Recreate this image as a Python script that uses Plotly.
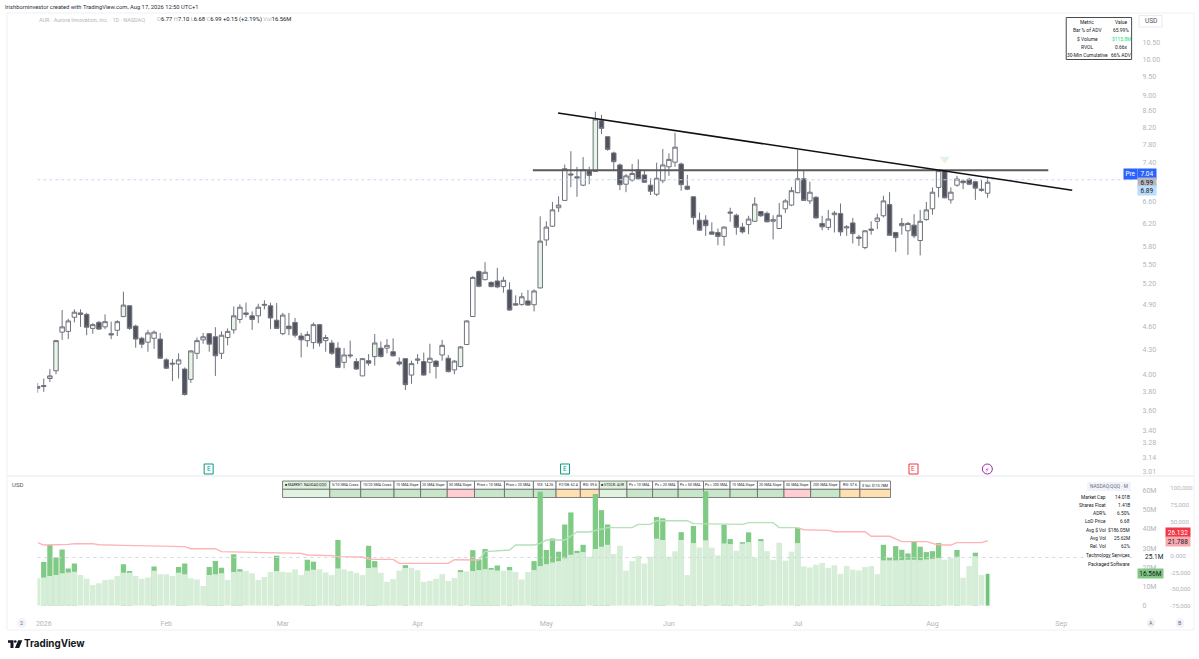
import plotly.graph_objects as go

W, H = 1199, 659
FONT = "Roboto"

# ---------- price data ----------
opens = [3.86,3.87,3.95,4.04,4.52,4.53,4.72,4.78,4.76,4.57,
4.65,4.59,4.50,4.545,4.73,4.88,4.60,4.44,4.39,4.44,
4.43,4.17,4.13,4.12,4.06,3.94,4.25,4.42,4.50,4.46,
4.25,4.45,4.55,4.69,4.78,4.74,4.74,4.90,4.88,4.68,
4.50,4.60,4.65,4.47,4.41,4.385,4.62,4.41,4.38,4.315,
4.14,4.23,4.15,3.98,4.16,4.21,4.315,4.315,4.27,4.145,
4.185,3.99,4.165,4.15,4.14,4.155,4.23,4.19,4.05,4.09,
4.36,4.73,5.39,5.265,5.225,5.245,5.16,5.11,4.91,4.90,
4.95,4.895,5.14,5.91,6.15,6.49,6.63,7.16,7.10,6.93,
7.22,7.21,8.36,7.98,7.61,7.35,6.95,7.035,7.25,7.14,
6.93,6.75,7.02,7.31,7.41,7.37,6.91,6.70,6.26,6.26,
6.05,6.04,5.97,6.41,6.35,6.135,6.18,6.24,6.42,6.385,
6.24,6.11,6.47,6.54,6.78,7.06,6.62,6.69,6.20,6.13,
6.36,6.38,6.12,6.21,5.96,5.78,6.10,6.24,6.34,6.55,
6.04,6.16,6.07,6.17,5.90,6.27,6.47,6.885,7.23,6.64,
6.93,7.015,7.05,7.00,6.85,6.77]
closes = [3.84,3.86,3.98,4.41,4.59,4.67,4.79,4.76,4.585,4.62,
4.56,4.66,4.485,4.66,4.89,4.57,4.43,4.365,4.51,4.52,
4.19,4.07,4.12,4.17,3.77,4.28,4.41,4.46,4.365,4.22,
4.48,4.53,4.74,4.86,4.76,4.69,4.86,4.89,4.71,4.57,
4.75,4.565,4.48,4.42,4.49,4.62,4.38,4.45,4.25,4.08,
4.23,4.22,4.06,4.185,4.13,4.38,4.21,4.35,4.22,4.12,
3.88,4.125,4.18,3.99,4.19,4.09,4.35,4.03,4.155,4.33,
4.67,5.30,5.165,5.38,5.16,5.155,5.255,4.82,4.89,5.01,
4.89,5.095,5.89,6.135,6.45,6.54,7.27,7.14,7.08,7.25,
7.13,8.40,8.175,7.69,7.42,6.94,7.12,7.17,7.06,6.99,
6.81,7.07,7.35,7.47,7.74,6.94,6.85,6.31,6.08,6.16,
6.01,5.97,6.135,6.39,6.13,6.05,6.28,6.56,6.34,6.23,
6.27,6.35,6.62,6.82,7.06,6.63,6.79,6.30,6.14,6.28,
6.39,6.05,6.14,6.02,5.94,6.07,6.08,6.30,6.62,5.99,
5.95,6.20,6.20,5.98,6.24,6.45,6.79,7.23,6.68,6.79,
7.055,6.98,6.95,6.87,6.83,6.99]
highs = [3.90,3.95,4.06,4.42,4.82,4.70,4.83,4.83,4.78,4.64,
4.67,4.76,4.66,4.68,5.085,4.89,4.62,4.46,4.55,4.54,
4.51,4.19,4.18,4.25,4.08,4.29,4.45,4.51,4.51,4.585,
4.53,4.57,4.87,4.90,4.925,4.80,4.91,4.96,4.925,4.92,
4.78,4.78,4.71,4.51,4.53,4.65,4.63,4.485,4.42,4.39,
4.315,4.41,4.19,4.19,4.24,4.495,4.40,4.43,4.44,4.20,
4.185,4.16,4.24,4.26,4.37,4.17,4.42,4.23,4.17,4.34,
4.68,5.32,5.41,5.54,5.235,5.45,5.31,5.225,5.03,5.07,
5.11,5.12,6.33,6.24,6.60,6.71,7.36,7.65,7.31,7.52,
7.31,8.58,8.50,7.99,7.64,7.38,7.16,7.37,7.47,7.25,
7.07,7.40,7.70,7.60,8.07,7.40,7.14,6.715,6.40,6.35,
6.22,6.11,6.15,6.49,6.38,6.21,6.34,6.69,6.42,6.42,
6.35,6.58,6.655,6.89,7.68,7.24,7.00,6.715,6.34,6.45,
6.43,6.57,6.17,6.30,6.00,6.08,6.24,6.38,6.72,6.79,
6.05,6.30,6.23,6.37,6.45,6.60,6.885,7.25,7.24,6.885,
7.12,7.05,7.08,7.015,7.035,7.10]
lows = [3.79,3.80,3.91,4.00,4.42,4.43,4.65,4.59,4.48,4.50,
4.55,4.56,4.43,4.47,4.72,4.55,4.32,4.315,4.27,4.305,
4.18,4.06,3.92,3.95,3.76,3.90,4.18,4.37,4.27,3.98,
4.18,4.35,4.50,4.64,4.72,4.55,4.64,4.83,4.56,4.56,
4.48,4.48,4.45,4.20,4.33,4.305,4.335,4.27,4.23,4.07,
4.07,4.19,4.05,3.98,4.10,4.10,4.20,4.25,4.21,4.10,
3.82,3.89,4.12,3.985,4.01,3.95,4.16,4.02,4.00,4.08,
4.355,4.73,5.15,5.255,5.15,5.135,5.07,4.81,4.88,4.88,
4.88,4.80,5.135,5.81,6.14,6.41,6.62,6.89,6.70,6.91,
6.95,7.21,8.04,7.66,7.22,6.83,6.79,7.00,7.035,6.98,
6.735,6.715,6.97,7.12,7.31,6.82,6.83,6.18,6.07,5.98,
6.00,5.82,5.81,6.23,6.00,6.02,6.01,6.23,6.32,6.22,
5.92,6.10,6.39,6.52,6.77,6.62,6.56,6.29,6.08,6.08,
6.04,5.98,5.98,5.85,5.81,5.75,6.00,6.10,6.31,5.98,
5.71,6.00,5.66,5.94,5.65,6.25,6.36,6.69,6.67,6.57,
6.90,6.85,6.93,6.64,6.80,6.68]
light_green_candles = [3, 14, 25, 32, 55, 69, 82, 91, 117, 145]

# ---------- volume data (millions) ----------
base_volume = [14.2,14.7,15.4,15.9,16.8,17.3,17.6,15.9,14.0,10.7,
11.6,13.3,13.6,15.4,17.1,17.1,15.4,14.0,14.7,18.2,
16.4,16.4,15.4,17.1,16.4,14.2,13.6,10.2,15.9,16.4,
16.8,13.3,17.5,17.8,18.0,16.8,13.3,14.9,17.5,18.0,
17.6,17.3,18.9,15.9,18.2,18.7,18.9,17.3,15.9,19.4,
18.9,18.0,17.1,15.9,19.6,19.9,17.1,12.4,13.8,18.3,
19.6,19.7,18.5,12.4,12.9,14.0,16.4,12.8,14.3,17.5,
17.8,18.0,18.5,19.0,18.7,18.3,18.2,18.5,17.5,13.6,
17.5,18.5,20.6,21.6,22.5,23.2,24.6,26.5,27.4,27.9,
25.5,29.5,30.7,31.7,26.9,31.2,18.2,23.2,25.8,22.0,
25.5,34.9,34.2,25.5,28.3,34.2,15.9,32.6,30.3,34.0,
30.2,26.2,32.4,32.1,28.6,32.3,33.1,25.1,33.6,28.4,
23.9,32.8,23.4,28.1,32.6,20.4,19.9,21.3,22.2,19.7,
21.0,16.6,20.6,18.7,18.3,20.1,20.6,16.4,23.6,23.6,
23.6,23.7,23.9,23.9,23.7,24.1,24.4,24.8,23.9,25.0,
25.5,14.5,20.6,25.8,15.9,16.56]
spike_idx = [1,2,3,4,5,6,14,15,19,23,24,28,29,30,32,33,39,44,45,49,54,55,60,69,71,72,73,74,75,77,
81,82,83,84,85,86,87,88,89,91,92,93,101,102,105,107,109,112,113,115,116,118,124,
138,139,140,141,142,143,144,145,146,147,150,153]
spike_volume = [22.7,31.6,25.1,29.3,19.4,22.0,21.5,18.0,20.4,20.1,22.0,20.1,23.2,19.7,26.8,18.9,26.0,23.9,22.9,34.2,31.2,23.2,21.1,18.5,28.9,24.1,29.5,19.6,20.9,20.1,
23.2,59.4,29.0,35.0,28.1,42.3,48.6,28.6,31.7,58.2,49.8,42.3,46.2,45.5,38.3,41.5,59.7,42.2,34.7,33.1,38.2,34.7,40.4,
31.7,25.0,31.0,29.1,27.2,33.5,30.7,27.9,28.4,32.6,29.0,27.6]
last_idx, last_volume = 155, 16.56
avg_volume = 25.1

# ---------- oscillator line ----------
pink1_idx = [0,1,5,6,9,10,14,20,24,25,29,30,34,38,39,43,44,48,49,53,54,58,59,67,68,72]
pink1_val = [19.0,15.5,16.5,17.5,17.5,16.0,15.0,13.6,13.1,10.1,10.1,5.7,4.7,4.2,3.2,3.2,0.7,-0.2,-1.7,-2.2,-5.7,-5.7,-11.6,-11.6,-6.2,-6.7]
green_idx = [72,73,77,78,81,82,83,86,88,90,93,97,98,100,101,106,107,115,116,120,121,124]
green_val = [-6.7,5.7,8.1,15.5,15.5,18.0,22.9,22.9,34.8,34.8,41.2,41.2,46.1,46.1,51.5,51.5,47.1,46.1,48.6,48.6,41.2,41.2]
pink2_idx = [124,125,129,130,135,136,139,141,145,147,149,150,154,155]
pink2_val = [41.2,38.2,37.2,35.2,35.2,28.4,28.4,20.5,20.5,15.5,15.5,19.0,19.0,21.788]

# ---------- drawn lines ----------
trend_idx, trend_price = [84.9, 168.8], [8.55, 6.83]
level_idx, level_price = [80.8, 164.9], [7.24, 7.24]
pre_price = 7.04

# ---------- axes ----------
month_idx = [1, 21, 40, 62, 83, 103, 124, 146, 167]
month_txt = ["2026", "Feb", "Mar", "Apr", "May", "Jun", "Jul", "Aug", "Sep"]
price_ticks = [10.5,10,9.5,9,8.6,8.2,7.8,7.4,6.6,6.2,5.8,5.5,5.2,4.9,4.6,4.3,4.0,3.8,3.6,3.4,3.28,3.14,3.01]
price_text = ["10.50","10.00","9.50","9.00","8.60","8.20","7.80","7.40","6.60","6.20","5.80","5.50","5.20","4.90","4.60","4.30","4.00","3.80","3.60","3.40","3.28","3.14","3.01"]
vol_ticks = [0, 10, 20, 30, 40, 50, 60]
vol_text = ["0", "10M", "20M", "30M", "40M", "50M", "60M"]
osc_ticks = [-75, -50, -25, 0, 50, 75, 100]
osc_text = ["-75,000", "-50,000", "-25,000", "0.000", "50,000", "75,000", "100,000"]

# ---------- table strip ----------
cell_labels = ["■ MARKET: NASDAQ:QQQ","5/10 SMA Cross","10/20 SMA Cross","10 SMA Slope","20 SMA Slope","50 SMA Slope",
 "Price > 10 SMA","Price > 20 SMA","VIX: 14.26","F2108: 62.4","RSI: 59.6","■ STOCK: AUR","Px > 10 SMA","Px > 20 SMA",
 "Px > 50 SMA","Px > 200 SMA","10 SMA Slope","20 SMA Slope","50 SMA Slope","200 SMA Slope","RSI: 57.6","$ Vol: $115.78M"]
cell_colors = ["#e0f2e0","#c8e6c9","#c8e6c9","#c8e6c9","#c8e6c9","#ffcdd2","#c8e6c9","#c8e6c9","#c8e6c9","#ffe0b2","#ffe0b2",
 "#e0f2e0","#c8e6c9","#c8e6c9","#c8e6c9","#c8e6c9","#c8e6c9","#c8e6c9","#ffcdd2","#c8e6c9","#ffe0b2","#ffe0b2"]
cell_edges = [281,328.3,359.3,392.7,419.3,446,473.3,503.3,532.3,555,579.3,598.3,626,651.7,677.3,702.7,729.3,756.7,783.3,810,839.3,859.3,890]

metric_names = ["Metric","Bar % of ADV","$ Volume","RVOL","30-Min Cumulative"]
metric_vals = ["Value","65.99%","$115.8M","0.66x","66% ADV"]
stat_names = ["Market Cap","Shares Float","ADR%","LoD Price","Avg $ Vol","Avg Vol","Rel. Vol"]
stat_vals = ["14.01B","1.41B","6.50%","6.68","$186.05M","25.62M","62%"]
sector_names = ["Technology Services","Packaged Software"]

# ---------- helpers ----------
def px(x): return x / W
def py(y): return 1 - y / H

PLOT_L, PLOT_R, MAIN_T, SPLIT, LOW_B = 35.5, 1134, 14, 476, 614
XR = [-0.03, 178.9]
DARK, GRAY, AXIS = "#50535e", "#6f727c", "#b2b5be"

fig = go.Figure()

light_set = set(light_green_candles)
groups = [
    ("up", [i for i in range(len(opens)) if closes[i] >= opens[i] and i not in light_set], "#ffffff"),
    ("light", light_green_candles, "#e6f5e6"),
    ("down", [i for i in range(len(opens)) if closes[i] < opens[i]], DARK),
]
for name, idx, fill in groups:
    fig.add_trace(go.Candlestick(
        x=idx, open=[opens[i] for i in idx], high=[highs[i] for i in idx],
        low=[lows[i] for i in idx], close=[closes[i] for i in idx],
        name=name, xaxis="x", yaxis="y", whiskerwidth=0,
        increasing=dict(line=dict(color=GRAY, width=1), fillcolor=fill),
        decreasing=dict(line=dict(color=GRAY, width=1), fillcolor=fill),
        showlegend=False, hoverinfo="skip"))

fig.add_trace(go.Scatter(x=XR, y=[pre_price, pre_price], mode="lines", xaxis="x", yaxis="y",
                         line=dict(color="#ccd6f2", width=1, dash="dot"), showlegend=False, hoverinfo="skip"))
fig.add_trace(go.Scatter(x=level_idx, y=level_price, mode="lines", xaxis="x", yaxis="y",
                         line=dict(color="#5a5a5a", width=2), showlegend=False, hoverinfo="skip"))
fig.add_trace(go.Scatter(x=trend_idx, y=trend_price, mode="lines", xaxis="x", yaxis="y",
                         line=dict(color="#111111", width=1.5), showlegend=False, hoverinfo="skip"))
fig.add_trace(go.Scatter(x=[148], y=[7.48], mode="markers", xaxis="x", yaxis="y",
                         marker=dict(symbol="triangle-down", size=9, color="#e2f3e2"), showlegend=False, hoverinfo="skip"))

# volume
fig.add_trace(go.Bar(x=spike_idx, y=spike_volume, width=0.86, marker=dict(color="#7fca85", line_width=0, opacity=1),
                     xaxis="x2", yaxis="y2", showlegend=False, hoverinfo="skip"))
fig.add_trace(go.Bar(x=list(range(len(base_volume))), y=base_volume, width=0.92,
                     marker=dict(color="#d6eed8", line_width=0, opacity=1),
                     xaxis="x2", yaxis="y2", showlegend=False, hoverinfo="skip"))
fig.add_trace(go.Bar(x=[last_idx], y=[last_volume], width=0.5, marker=dict(color="#6fc277", line_width=0, opacity=1),
                     xaxis="x2", yaxis="y2", showlegend=False, hoverinfo="skip"))
fig.add_trace(go.Scatter(x=XR, y=[avg_volume, avg_volume], mode="lines", xaxis="x2", yaxis="y2",
                         line=dict(color="#d4d6db", width=1, dash="3px,4px"), showlegend=False, hoverinfo="skip"))

# oscillator
for xs, ys, c in [(pink1_idx, pink1_val, "#ffb4b4"), (green_idx, green_val, "#b5e0b8"), (pink2_idx, pink2_val, "#ffb4b4")]:
    fig.add_trace(go.Scatter(x=xs, y=ys, mode="lines", xaxis="x2", yaxis="y3",
                             line=dict(color=c, width=1.4), showlegend=False, hoverinfo="skip"))

shapes, notes = [], []

def rect(x0, y0, x1, y1, fill="rgba(0,0,0,0)", line="rgba(0,0,0,0)", lw=1, layer="below"):
    shapes.append(dict(type="rect", xref="paper", yref="paper", x0=px(x0), x1=px(x1), y0=py(y0), y1=py(y1),
                       fillcolor=fill, line=dict(color=line, width=lw), layer=layer))

def seg(x0, y0, x1, y1, color, lw=1, layer="below"):
    shapes.append(dict(type="line", xref="paper", yref="paper", x0=px(x0), x1=px(x1), y0=py(y0), y1=py(y1),
                       line=dict(color=color, width=lw), layer=layer))

def text(x, y, s, size=7, color="#131722", anchor="left", **kw):
    pad = {"left": -4, "right": 2, "center": 0}[anchor]
    notes.append(dict(xref="paper", yref="paper", x=px(x + pad), y=py(y), text=s, showarrow=False, xanchor=anchor,
                      yanchor="middle", font=dict(family=kw.pop("family", FONT), size=size, color=color), **kw))

# frame
rect(5, 13, 1194, 630, line="#eef0f4")
seg(5, SPLIT, 1194, SPLIT, "#e6e8ee")

# header
text(5, 7, "Irishborninvestor created with TradingView.com, Aug 17, 2026 12:50 UTC+1", 5.8, "#2a2e39")
text(39, 20, "AUR · Aurora Innovation, Inc. · 1D · NASDAQ", 5.5, "#b2b5be")
text(157, 20, "<span style='color:#b2b5be'>O</span>6.77 <span style='color:#b2b5be'>H</span>7.10 "
              "<span style='color:#b2b5be'>L</span>6.68 <span style='color:#b2b5be'>C</span>6.99 "
              "+0.15 (+2.19%) <span style='color:#b2b5be'>Vol</span>16.56M", 5.8, "#131722")

# metric box
rect(1066, 17.5, 1131.5, 59.5, fill="#ffffff", line="#4a4a4a", lw=1, layer="above")
for k, (n, v) in enumerate(zip(metric_names, metric_vals)):
    yy = 22 + k * 8.25
    text(1087, yy, n, 4.9, "#131722", "center")
    text(1121, yy, v, 4.9, "#00e676" if k == 2 else "#131722", "center")

# USD boxes
rect(1139, 15.5, 1162, 27, line="#e9ebf0")
text(1150.5, 21.5, "USD", 6.5, "#50535e", "center")
text(16, 484.5, "USD", 6, "#50535e", "center")

# price tags
text(1130, 174, "Pre", 6.5, "#ffffff", "center", bgcolor="#2962ff", width=11, height=8, borderpad=1)
text(1147, 174, "7.04", 6.5, "#ffffff", "center", bgcolor="#2962ff", width=16, height=8, borderpad=1)
text(1147, 182.5, "6.99", 6.5, "#131722", "center", bgcolor="#b5b7bd", width=16, height=7, borderpad=1)
text(1147, 190.5, "6.89", 6.5, "#131722", "center", bgcolor="#bbdcfb", width=16, height=7, borderpad=1)

# volume pane tags
text(1154, 556.5, "25.1M", 6.5, "#131722", "center")
text(1150, 573, "16.56M", 6.5, "#131722", "center", bgcolor="#81c784", width=23, height=7, borderpad=1)
text(1177.5, 532.7, "26.132", 6.5, "#ffffff", "center", bgcolor="#f23645", width=22, height=7, borderpad=1)
text(1177.5, 541.2, "21.788", 6.5, "#131722", "center", bgcolor="#f7a9ae", width=22, height=7, borderpad=1)

# pill + stats
rect(1087, 482, 1131, 491, fill="#f0f3fa")
text(1109, 486.5, "NASDAQ:QQQ · M", 4.8, "#6a6d78", "center")
for k, (n, v) in enumerate(zip(stat_names, stat_vals)):
    yy = 497.2 + k * 8.2
    text(1106, yy, n, 4.8, "#131722", "right")
    text(1130, yy, v, 4.8, "#131722", "right")
for k, s in enumerate(sector_names):
    text(1130, 555.3 + k * 8.2, s, 4.8, "#131722", "right")

# top strip table
for k, lab in enumerate(cell_labels):
    l, r = cell_edges[k], cell_edges[k + 1]
    head = "#e0f2e0" if k in (0, 11) else "#ffffff"
    rect(l, 481, r, 489.3, fill=head, line="#666666", lw=0.8, layer="below")
    rect(l, 489.3, r, 497.5, fill=cell_colors[k], line="#666666", lw=0.8, layer="below")
    text((l + r) / 2, 485.3, lab, 3.6, "#131722", "center")

# event badges
for xc, col, ch in [(207, "#089981", "E"), (564, "#089981", "E"), (913, "#f23645", "E")]:
    shapes.append(dict(type="rect", xref="paper", yref="paper", x0=px(xc - 4.5), x1=px(xc + 4.5),
                       y0=py(464), y1=py(474), fillcolor="#ffffff", line=dict(color=col, width=1), layer="above"))
    text(xc, 469, ch, 6.5, col, "center")
shapes.append(dict(type="circle", xref="paper", yref="paper", x0=px(982), x1=px(992), y0=py(464), y1=py(474),
                   fillcolor="#ffffff", line=dict(color="#9c27b0", width=1), layer="above"))
text(987, 469, "⚡", 6, "#9c27b0", "center", family="DejaVu Sans")

# round buttons
for xc, ch in [(20, "2"), (1151, "A"), (1180, "B")]:
    shapes.append(dict(type="circle", xref="paper", yref="paper", x0=px(xc - 4.5), x1=px(xc + 4.5),
                       y0=py(618), y1=py(628), fillcolor="#f0f3fa", line=dict(width=0), layer="below"))
    text(xc, 623, ch, 5.5, "#6a6d78", "center")

# TradingView logo
def poly(points, color="#131722"):
    d = "M " + " L ".join(f"{px(a):.5f},{py(b):.5f}" for a, b in points) + " Z"
    shapes.append(dict(type="path", xref="paper", yref="paper", path=d, fillcolor=color, line=dict(width=0), layer="above"))
poly([(6, 640.2), (11.5, 640.2), (11.5, 648), (8.5, 648), (8.5, 642.8), (6, 642.8)])
shapes.append(dict(type="circle", xref="paper", yref="paper", x0=px(12), x1=px(14.6), y0=py(640.2), y1=py(642.8),
                   fillcolor="#131722", line=dict(width=0), layer="above"))
poly([(16.2, 640.2), (20.4, 640.2), (17.2, 648), (13, 648)])
text(24, 644.3, "<b>TradingView</b>", 9.8, "#131722", family="Inter")

fig.update_layout(
    width=W, height=H, autosize=False, margin=dict(l=0, r=0, t=0, b=0),
    paper_bgcolor="#ffffff", plot_bgcolor="rgba(0,0,0,0)",
    font=dict(family=FONT, size=7, color=AXIS), barmode="overlay", boxgap=0.27, boxgroupgap=0, showlegend=False,
    shapes=shapes, annotations=notes,
    xaxis=dict(domain=[px(PLOT_L), px(PLOT_R)], range=XR, anchor="y", showgrid=False, zeroline=False,
               showticklabels=False, rangeslider=dict(visible=False), showline=False, ticks=""),
    xaxis2=dict(domain=[px(PLOT_L), px(PLOT_R)], range=XR, anchor="y2", showgrid=False, zeroline=False,
                tickmode="array", tickvals=month_idx, ticktext=month_txt, ticks="outside", ticklen=3,
                tickcolor="rgba(0,0,0,0)", tickfont=dict(size=7, color=AXIS, family=FONT), showline=False),
    yaxis=dict(domain=[py(SPLIT), py(MAIN_T)], type="log", range=[0.47349, 1.05690], anchor="x", side="right",
               showgrid=False, zeroline=False, tickmode="array", tickvals=price_ticks, ticktext=price_text,
               ticks="outside", ticklen=6, tickcolor="rgba(0,0,0,0)",
               tickfont=dict(size=7, color=AXIS, family=FONT), showline=False),
    yaxis2=dict(domain=[py(LOW_B), py(SPLIT)], range=[-4.4, 67.6], anchor="x2", side="right", showgrid=False,
                zeroline=False, tickmode="array", tickvals=vol_ticks, ticktext=vol_text, ticks="outside", ticklen=6,
                tickcolor="rgba(0,0,0,0)", tickfont=dict(size=7, color=AXIS, family=FONT), showline=False),
    yaxis3=dict(domain=[py(LOW_B), py(SPLIT)], range=[-86.5, 117.6], overlaying="y2", anchor="free",
                position=px(1165), side="right", showgrid=False, zeroline=False, tickmode="array",
                tickvals=osc_ticks, ticktext=osc_text, ticks="outside", ticklen=3, tickcolor="rgba(0,0,0,0)",
                tickfont=dict(size=6.2, color=AXIS, family=FONT), showline=False),
)

fig.write_html("out.html", config={"displayModeBar": False},
               post_script="document.body.style.margin='0';document.body.style.overflow='hidden';")
